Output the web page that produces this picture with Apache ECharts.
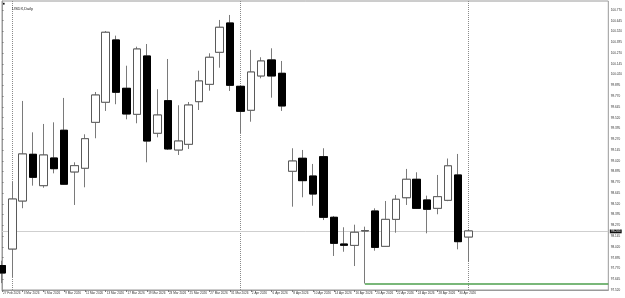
<!DOCTYPE html>
<html><head><meta charset="utf-8">
<script src="https://cdn.jsdelivr.net/npm/echarts@6/dist/echarts.min.js"></script>
<style>html,body{margin:0;padding:0;background:#fff}#c{width:625px;height:298px}</style>
</head><body><div id="c"></div>
<script>
const dates = ['27 Feb 2026','2 Mar 2026','3 Mar 2026','4 Mar 2026','5 Mar 2026','6 Mar 2026','9 Mar 2026','10 Mar 2026','11 Mar 2026','12 Mar 2026','13 Mar 2026','16 Mar 2026','17 Mar 2026','18 Mar 2026','19 Mar 2026','20 Mar 2026','23 Mar 2026','24 Mar 2026','25 Mar 2026','26 Mar 2026','27 Mar 2026','30 Mar 2026','31 Mar 2026','1 Apr 2026','2 Apr 2026','3 Apr 2026','6 Apr 2026','7 Apr 2026','8 Apr 2026','9 Apr 2026','10 Apr 2026','13 Apr 2026','14 Apr 2026','15 Apr 2026','16 Apr 2026','17 Apr 2026','20 Apr 2026','21 Apr 2026','22 Apr 2026','23 Apr 2026','24 Apr 2026','27 Apr 2026','28 Apr 2026','29 Apr 2026','30 Apr 2026','1 May 2026'];
const open  = [97.804,97.996,98.553,99.095,98.731,99.052,99.374,98.890,98.933,99.466,99.699,100.422,99.861,99.559,100.236,99.339,99.717,99.145,99.211,99.706,99.907,100.279,100.619,99.884,99.606,100.004,100.190,100.035,98.898,99.049,98.843,99.067,98.364,98.054,98.038,98.205,98.437,98.027,98.340,98.591,98.805,98.565,98.468,98.561,98.855,98.135];
const high  = [97.860,98.773,99.714,99.350,99.447,99.466,99.749,99.002,99.327,99.818,100.526,100.472,100.123,100.344,100.375,99.850,100.201,99.664,99.702,100.065,100.267,100.654,100.712,99.899,100.306,100.221,100.325,100.178,99.165,99.145,98.983,99.165,98.379,98.248,98.278,98.255,98.468,98.553,98.623,98.925,98.886,98.615,98.855,99.046,99.099,98.228];
const low   = [97.600,97.671,98.469,98.731,98.707,98.874,98.739,98.507,98.712,99.281,99.598,99.676,99.501,99.455,99.002,99.292,99.145,99.087,99.157,99.609,99.833,100.100,99.830,99.342,99.473,99.977,99.752,99.598,98.487,98.596,98.498,98.332,97.915,97.964,97.798,97.595,97.976,98.019,98.185,98.507,98.460,98.178,98.399,98.551,97.992,97.845];
const close = [97.717,98.576,99.099,98.828,99.087,98.928,98.748,98.963,99.276,99.783,100.511,99.815,99.563,100.317,99.249,99.551,99.157,99.249,99.667,99.946,100.221,100.569,99.896,99.594,100.050,100.178,100.004,99.656,99.017,98.789,98.634,98.364,98.062,98.039,98.190,98.210,98.015,98.340,98.573,98.805,98.468,98.457,98.603,98.961,98.081,98.205];
const yTickLabels = ['97.520','97.645','97.770','97.895','98.020','98.145','98.270','98.395','98.520','98.645','98.770','98.895','99.020','99.145','99.270','99.395','99.520','99.645','99.770','99.895','100.020','100.145','100.270','100.395','100.520','100.645','100.770'];
const lastPrice = 98.205;
const levelPrice = 97.59;
const levelStartBar = 35;
const separatorBars = [1, 23, 45];
const symbolTitle = 'USDX,Daily';

const X_MAX = 58.48;
const labelFont = 'Liberation Sans';
const chart = echarts.init(document.getElementById('c'), null, {renderer: 'canvas'});
const idx = dates.map((d, i) => i);
const dateTicks = idx.filter(i => i % 2 === 0);
const yTicks = yTickLabels.map(Number);

const wickData = idx.map(i => [i, open[i], close[i], low[i], high[i]]);
const bodyData = idx.map(i => [i, open[i], close[i], Math.min(open[i], close[i]), Math.max(open[i], close[i])]);

const sepData = separatorBars.map(b => ({xAxis: b, lineStyle: {color: '#8a8a8a', type: [1, 1], width: 1}, label: {show: false}}));
const levelData = [
  {yAxis: lastPrice, lineStyle: {color: '#cfcfcf', type: 'solid', width: 1},
    label: {show: true, position: 'end', distance: 1.5, formatter: lastPrice.toFixed(3), color: '#fff', backgroundColor: '#111',
      fontSize: 3.1, fontFamily: labelFont, padding: [0.4, 1.2]}},
  [{coord: [levelStartBar, levelPrice], lineStyle: {color: '#4c9f4c', width: 1.5, type: 'solid'}, label: {show: false}}, {coord: [X_MAX, levelPrice]}]
];

chart.setOption({
  animation: false,
  backgroundColor: '#fff',
  title: {text: symbolTitle, left: 7, top: 1.8, textStyle: {fontSize: 4, fontWeight: 'normal', color: '#222', fontFamily: labelFont}},
  graphic: [{type: 'rect', shape: {x: 2, y: 2.8, width: 2.6, height: 1.8}, style: {fill: '#111'}}],
  grid: {left: 1, top: 1, width: 610, bottom: 8, show: true, borderColor: '#9a9a9a', borderWidth: 1, backgroundColor: 'transparent'},
  xAxis: {type: 'value', min: 0, max: X_MAX,
    axisLine: {show: true, lineStyle: {color: '#9a9a9a'}},
    axisTick: {show: true, length: 2, customValues: dateTicks, lineStyle: {color: '#777'}},
    axisLabel: {customValues: dateTicks, formatter: v => dates[Math.round(v)] || '', align: 'left', margin: 2,
      fontSize: 3.1, fontFamily: labelFont, color: '#333', padding: [0, 0, 0, 1]},
    splitLine: {show: false}},
  yAxis: {type: 'value', position: 'right', min: 97.52, max: 100.874, scale: true,
    axisLine: {show: true, lineStyle: {color: '#9a9a9a'}},
    axisTick: {show: true, length: 1.5, customValues: yTicks, lineStyle: {color: '#777'}},
    axisLabel: {customValues: yTicks, formatter: v => v.toFixed(3), margin: 2.5, fontSize: 3.1, fontFamily: labelFont, color: '#333'},
    splitLine: {show: false}},
  series: [
    {type: 'line', name: 'guides', data: [], z: 1, silent: true,
      markLine: {silent: true, symbol: ['none', 'none'], animation: false, z: 1, data: sepData.concat(levelData)}},
    {type: 'candlestick', name: 'wick', data: wickData, encode: {x: 0, y: [1, 2, 3, 4]}, barWidth: 8, clip: true, z: 3,
      itemStyle: {color: '#fff', color0: '#000', borderColor: '#7a7a7a', borderColor0: '#7a7a7a', borderColorDoji: '#7a7a7a', borderWidth: 1}},
    {type: 'candlestick', name: 'body', data: bodyData, encode: {x: 0, y: [1, 2, 3, 4]}, barWidth: 8, clip: true, z: 4,
      itemStyle: {color: '#fff', color0: '#000', borderColor: '#5a5a5a', borderColor0: '#000', borderColorDoji: '#5a5a5a', borderWidth: 1}}
  ]
});
</script></body></html>
